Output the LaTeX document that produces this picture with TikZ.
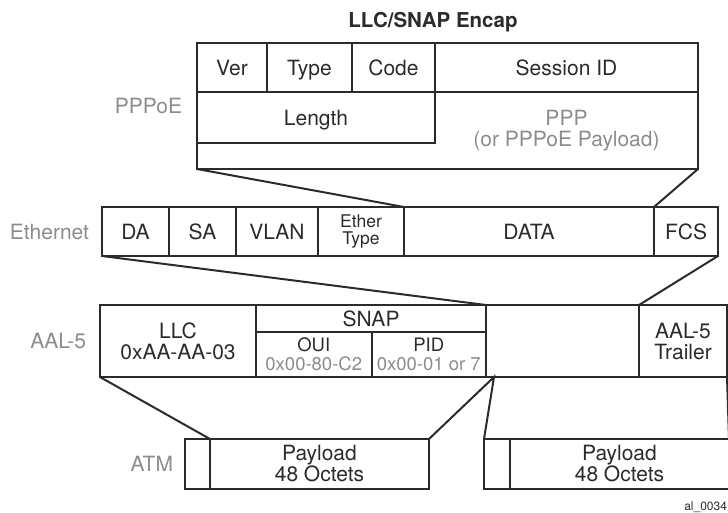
\documentclass[tikz,border=0pt]{standalone}
\usepackage{fontspec}
\setmainfont{TeX Gyre Heros}
\usetikzlibrary{positioning}
\definecolor{edge}{HTML}{2B2B2B}
\definecolor{faint}{HTML}{8C8C8C}
\begin{document}
\begin{tikzpicture}
[x=1pt,y=-1pt,color=edge,line width=2pt,
 every node/.style=
   {inner sep=0pt,outer sep=0pt,align=center,font=\fontsize{21}{21}\selectfont},
 cell/.style 2 args=
   {rectangle,draw,anchor=north west,minimum width=#1pt,minimum height=#2pt},
 layer/.style={text=faint},
 small/.style={font=\fontsize{18.5}{19}\selectfont}]
\useasboundingbox (0,0) rectangle (728,512);
\node [font=\bfseries\fontsize{20.5}{21}\selectfont] (title) at (433,22) {LLC/SNAP Encap};
% PPPoE
\node [cell={501}{126}] (pppoe) at (197,43) {};
\node [cell={70}{49}] (ver) at (197,43) {Ver};
\node [cell={85}{49},right=0pt of ver,text depth=0pt] (type) {Type};
\node [cell={83}{49},right=0pt of type] (code) {Code};
\node [cell={263}{49},right=0pt of code] (sess) {Session ID};
\node [cell={238}{51},text depth=0pt] (length) at (ver.south west) {Length};
\node [layer] (ppp) at (566.5,130.5) {PPP\\(or PPPoE Payload)};
\node [layer,left=15pt of pppoe] (lpppoe) {PPPoE};
% Ethernet
\node [cell={67}{49}] (da) at (102,207) {DA};
\node [cell={67}{49},right=0pt of da] (sa) {SA};
\node [cell={82}{49},right=0pt of sa] (vlan) {VLAN};
\node [cell={86}{49},right=0pt of vlan,font=\fontsize{17.5}{17}\selectfont] (ethtype) {Ether\\Type};
\node [cell={250}{49},right=0pt of ethtype] (data) {DATA};
\node [cell={64}{49},right=0pt of data] (fcs) {FCS};
\node [layer,left=13pt of da] (leth) {Ethernet};
% AAL-5
\node [cell={156}{72}] (llc) at (100,305) {LLC\\0xAA-AA-03};
\node [cell={230}{27}] (snap) at (llc.north east) {SNAP};
\node [cell={115.5}{45},small] (oui) at (snap.south west) {OUI\\\textcolor{faint}{0x00-80-C2}};
\node [cell={114.5}{45},small,right=0pt of oui] (pid) {PID\\\textcolor{faint}{0x00-01 or 7}};
\node [cell={153}{72}] (pay) at (snap.north east) {};
\node [cell={88}{72}] (trailer) at (pay.north east) {AAL-5\\Trailer};
\node [layer,left=14pt of llc] (laal) {AAL-5};
% ATM
\node [cell={25}{50}] (hdra) at (185,439) {};
\node [cell={219}{50},right=0pt of hdra] (cella) {Payload\\48 Octets};
\node [cell={26}{50}] (hdrb) at (484,439) {};
\node [cell={219}{50},right=0pt of hdrb] (cellb) {Payload\\48 Octets};
\node [layer,left=12pt of hdra] (latm) {ATM};
% fan-out lines
\draw (pppoe.south west) -- (ethtype.north east);
\draw (pppoe.south east) -- (fcs.north west);
\draw (da.south west) -- (snap.north east);
\draw (fcs.south east) -- (trailer.north west);
\draw (llc.south west) -- (cella.north west);
\coordinate (cut) at ([xshift=8pt]pay.south west);
\draw (cella.north east) -- (cut) -- (hdrb.north west);
\draw (trailer.south east) -- (cellb.north east);
\node [anchor=east,font=\fontsize{12}{13}\selectfont] (tag) at (727,507) {al\_0034};
\end{tikzpicture}
\end{document}
